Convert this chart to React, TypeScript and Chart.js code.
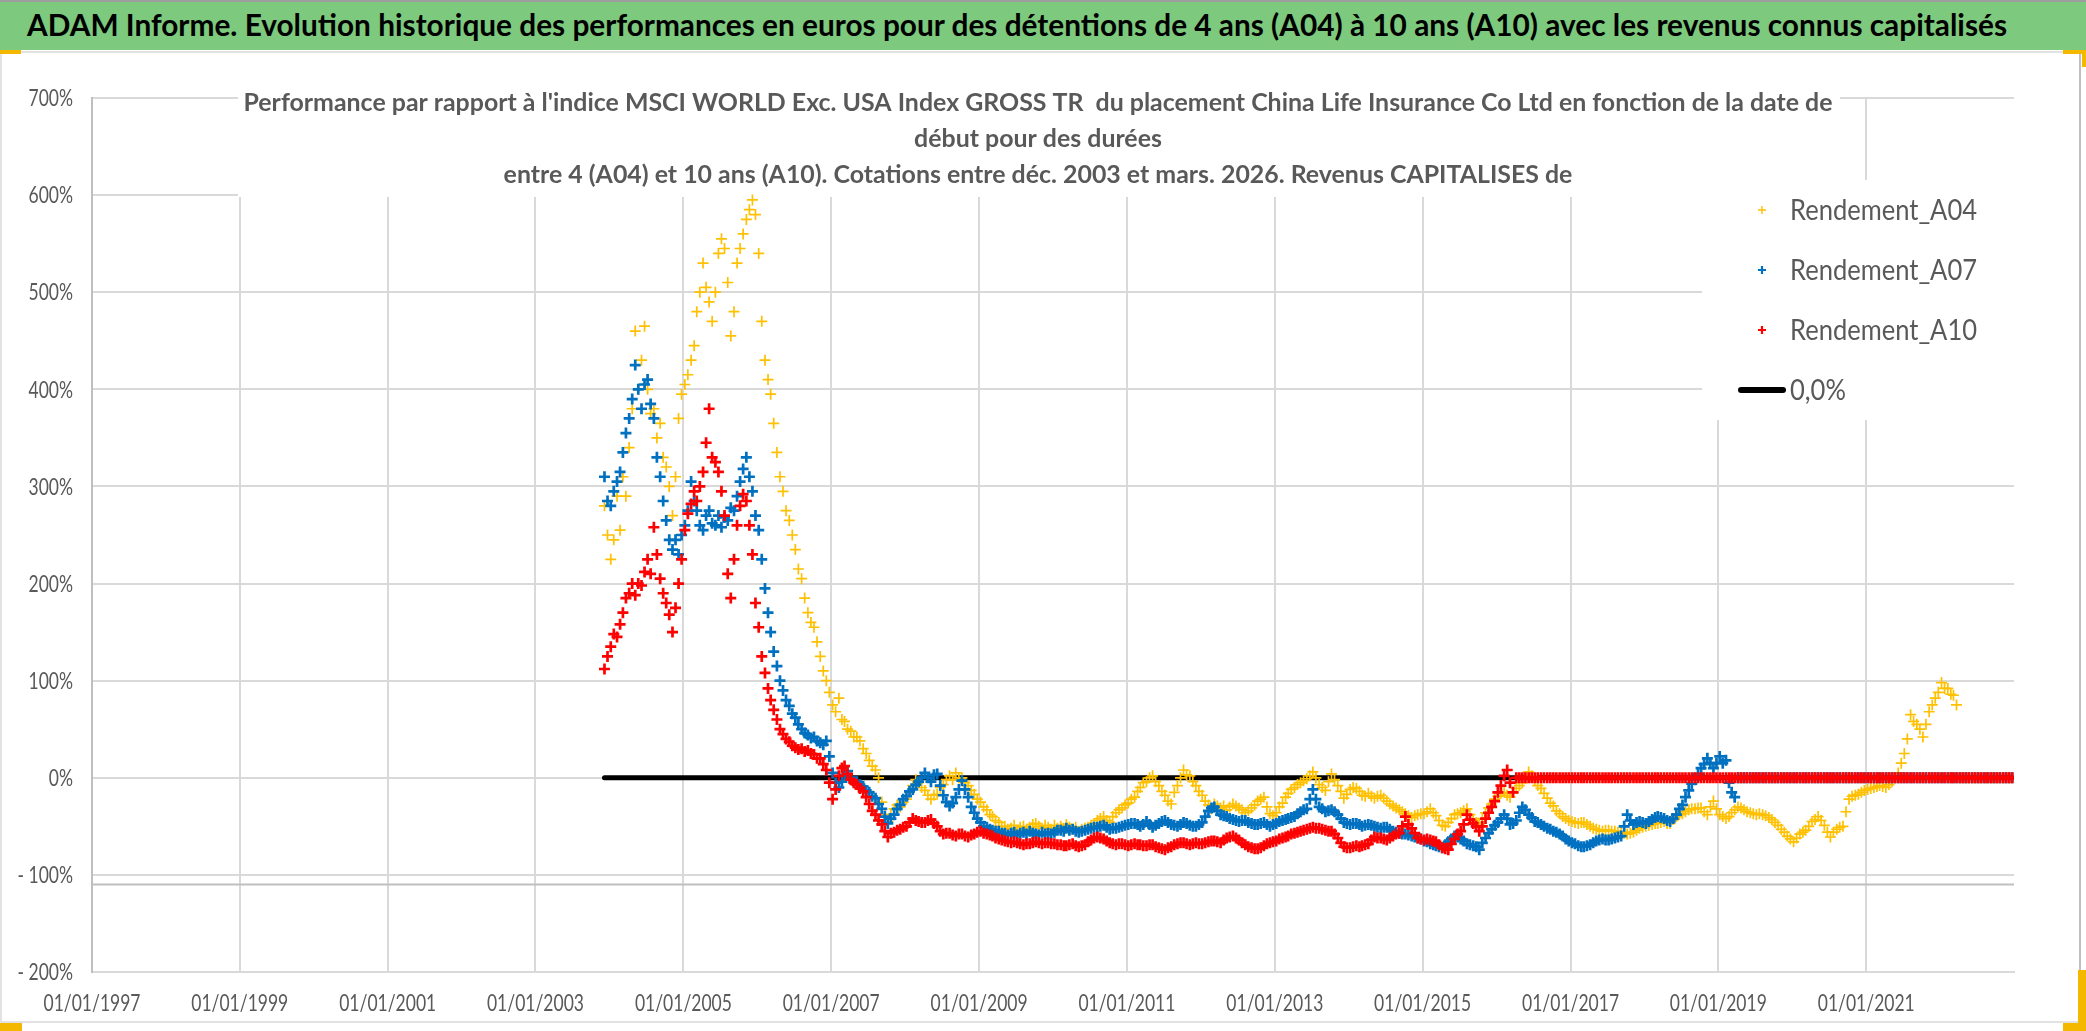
import React, { useEffect, useRef } from "react";
import { Chart, registerables } from "chart.js";

Chart.register(...registerables);

// ---------------- texts ----------------
const HEADER_TEXT =
  "ADAM Informe. Evolution historique des performances en euros pour des détentions de 4 ans (A04) à 10 ans (A10) avec les revenus connus capitalisés";
const SUBTITLE_LINES = [
  "Performance par rapport à l'indice MSCI WORLD Exc. USA Index GROSS TR  du placement China Life Insurance Co Ltd en fonction de la date de",
  "début pour des durées",
  "entre 4 (A04) et 10 ans (A10). Cotations entre déc. 2003 et mars. 2026. Revenus CAPITALISES de",
];
const SERIES_LABELS = ["Rendement_A04", "Rendement_A07", "Rendement_A10", "0,0%"];

// ---------------- axes ----------------
const X_TICK_YEARS = [1997, 1999, 2001, 2003, 2005, 2007, 2009, 2011, 2013, 2015, 2017, 2019, 2021];
const X_TICK_LABELS = [
  "01/01/1997", "01/01/1999", "01/01/2001", "01/01/2003", "01/01/2005", "01/01/2007", "01/01/2009",
  "01/01/2011", "01/01/2013", "01/01/2015", "01/01/2017", "01/01/2019", "01/01/2021",
];
const X_RANGE_YEARS = [1997, 2023];
const Y_TICK_VALUES = [700, 600, 500, 400, 300, 200, 100, 0, -100, -200];
const Y_TICK_LABELS = ["700%", "600%", "500%", "400%", "300%", "200%", "100%", "0%", "- 100%", "- 200%"];
const Y_RANGE = [-200, 700];
const ZERO_LEVEL = 0;
const AXIS_CROSS_LEVEL = -110;

// ---------------- data: two values per month (8th and 23rd), from Dec 2003, in % ----------------
const FIRST_MONTH = [2003, 11];
const HALF_MONTH_DAYS = [8, 23];

const A04 = [
  280, 250, 225, 245, 290, 255, 310, 290, 340, 380, 460, 400, 430, 465, 400, 375, 380, 350, 365, 330,
  320, 300, 270, 310, 370, 395, 405, 415, 430, 445, 480, 500, 530, 505, 490, 470, 500, 540, 555, 545,
  510, 455, 480, 530, 545, 560, 575, 585, 595, 580, 540, 470, 430, 410, 395, 365, 335, 310, 295, 275,
  265, 250, 235, 215, 205, 185, 170, 160, 155, 140, 125, 110, 100, 88, 75, 68, 82, 60, 58, 50,
  48, 42, 42, 38, 30, 25, 18, 12, 8, 0, -25, -38, -45, -38, -32, -28, -30, -25, -22, -15,
  -8, -2, -5, -10, -13, -18, -22, -18, -17, -10, -7, -2, 2, -2, 5, 0, 0, -5, -8, -13,
  -17, -22, -25, -30, -33, -38, -40, -44, -46, -50, -50, -53, -52, -49, -54, -51, -50, -53, -51, -48,
  -47, -50, -52, -49, -51, -53, -49, -52, -50, -52, -48, -51, -53, -51, -55, -53, -52, -51, -49, -47,
  -44, -42, -40, -44, -46, -40, -36, -33, -31, -28, -26, -22, -20, -14, -10, -5, -4, 0, 2, -4,
  -8, -14, -18, -24, -27, -15, -8, 0, 8, 3, 2, -4, -8, -14, -18, -24, -28, -32, -27, -29,
  -31, -29, -33, -30, -27, -29, -31, -33, -36, -34, -31, -28, -24, -22, -20, -30, -37, -39, -36, -30,
  -26, -20, -16, -12, -10, -7, -5, -3, -1, 2, 6, 0, -7, -10, -13, -4, 4, -2, -8, -14,
  -21, -17, -12, -10, -11, -14, -18, -19, -16, -19, -21, -19, -18, -21, -24, -27, -29, -31, -33, -35,
  -37, -39, -41, -39, -38, -37, -37, -35, -32, -36, -39, -44, -49, -50, -46, -42, -38, -37, -36, -34,
  -32, -38, -44, -46, -48, -42, -36, -31, -27, -22, -19, -16, -15, -18, -20, -15, -11, -8, -5, 0,
  6, 2, -3, -8, -11, -16, -21, -26, -29, -34, -37, -40, -42, -44, -45, -46, -47, -46, -46, -48,
  -50, -52, -53, -54, -55, -54, -54, -55, -55, -56, -56, -57, -58, -57, -56, -54, -52, -51, -50, -49,
  -48, -47, -47, -46, -45, -47, -47, -43, -40, -38, -37, -35, -33, -32, -32, -31, -31, -35, -38, -30,
  -24, -32, -38, -40, -42, -40, -36, -33, -30, -31, -33, -35, -36, -37, -38, -37, -38, -39, -41, -43,
  -46, -49, -53, -56, -60, -63, -66, -62, -58, -56, -54, -50, -45, -43, -40, -44, -49, -56, -61, -56,
  -53, -51, -50, -35, -22, -19, -18, -17, -15, -13, -12, -11, -10, -9, -8, -9, -10, -7, -4, 0,
  5, 15, 25, 40, 65, 58, 55, 50, 42, 55, 68, 75, 82, 88, 98, 92, 92, 86, 85, 75,
  0, 0, 0, 0, 0, 0, 0, 0, 0, 0, 0, 0, 0, 0, 0, 0, 0, 0,
];

const A07 = [
  310, 285, 280, 295, 305, 315, 335, 355, 370, 390, 425, 400, 380, 405, 410, 385, 370, 330, 310, 285,
  265, 245, 235, 245, 230, 250, 260, 275, 305, 285, 275, 260, 255, 270, 275, 262, 260, 270, 258, 268,
  265, 278, 275, 290, 305, 318, 330, 310, 295, 270, 255, 225, 195, 170, 150, 130, 115, 100, 90, 80,
  74, 66, 62, 55, 50, 46, 44, 41, 42, 38, 36, 34, 38, 22, 5, -5, -10, -4, 3, 7,
  0, -4, -4, -7, -9, -13, -15, -19, -21, -27, -32, -40, -47, -42, -38, -32, -28, -22, -19, -14,
  -12, -7, -4, 0, 5, 0, -4, 3, 4, -8, -18, -25, -29, -26, -20, -12, -3, -12, -20, -30,
  -36, -42, -46, -50, -51, -53, -54, -55, -55, -57, -57, -59, -57, -56, -59, -57, -56, -58, -55, -57,
  -58, -59, -56, -58, -57, -58, -56, -54, -54, -55, -52, -54, -53, -55, -56, -55, -54, -53, -52, -51,
  -51, -50, -49, -51, -53, -52, -52, -51, -50, -49, -48, -47, -47, -48, -50, -48, -45, -48, -51, -49,
  -47, -45, -44, -46, -48, -49, -50, -48, -46, -47, -49, -50, -50, -48, -46, -40, -34, -31, -30, -34,
  -38, -39, -40, -42, -43, -44, -45, -44, -44, -46, -47, -48, -48, -47, -46, -48, -50, -48, -47, -45,
  -44, -43, -42, -41, -40, -37, -35, -33, -32, -22, -12, -22, -30, -32, -35, -34, -33, -35, -38, -42,
  -46, -47, -48, -47, -47, -48, -50, -49, -48, -49, -50, -51, -52, -51, -51, -53, -55, -56, -57, -58,
  -58, -59, -60, -61, -62, -63, -65, -66, -68, -69, -70, -71, -72, -69, -66, -63, -60, -61, -63, -65,
  -68, -69, -70, -71, -74, -67, -62, -57, -53, -49, -46, -42, -38, -42, -48, -47, -44, -36, -30, -33,
  -38, -41, -45, -46, -48, -50, -52, -53, -55, -56, -58, -60, -63, -65, -67, -68, -70, -71, -71, -70,
  -69, -67, -65, -64, -63, -64, -64, -63, -62, -61, -60, -50, -38, -44, -48, -46, -45, -46, -47, -45,
  -43, -41, -40, -41, -42, -44, -45, -42, -38, -32, -28, -20, -13, -6, -2, 4, 10, 14, 20, 15,
  10, 15, 22, 15, 18, -5, -15, -20,
  0, 0, 0, 0, 0, 0, 0, 0, 0, 0, 0, 0, 0, 0, 0, 0, 0, 0, 0, 0,
  0, 0, 0, 0, 0, 0, 0, 0, 0, 0, 0, 0, 0, 0, 0, 0, 0, 0, 0, 0,
  0, 0, 0, 0, 0, 0, 0, 0, 0, 0, 0, 0, 0, 0, 0, 0, 0, 0, 0, 0,
  0, 0, 0, 0, 0, 0, 0, 0, 0, 0, 0, 0, 0, 0, 0, 0, 0, 0, 0, 0,
  0, 0, 0, 0, 0, 0, 0, 0, 0, 0,
];

const A10 = [
  112, 125, 135, 148, 145, 158, 170, 185, 190, 200, 188, 200, 198, 212, 225, 210, 258, 230, 205, 190,
  180, 168, 150, 175, 200, 225, 255, 272, 282, 295, 285, 300, 315, 345, 380, 330, 325, 315, 295, 270,
  210, 185, 225, 260, 280, 292, 285, 260, 230, 180, 155, 125, 108, 92, 80, 70, 60, 50, 45, 40,
  37, 33, 31, 29, 30, 27, 28, 25, 24, 20, 20, 14, 8, -5, -22, -12, 2, 10, 12, 4,
  -2, -5, -7, -11, -14, -20, -27, -34, -38, -44, -48, -55, -61, -57, -56, -54, -53, -51, -50, -46,
  -42, -44, -45, -46, -46, -44, -43, -47, -50, -55, -58, -57, -57, -59, -60, -58, -58, -60, -61, -59,
  -58, -56, -55, -57, -58, -59, -60, -62, -63, -64, -65, -66, -67, -66, -67, -68, -69, -68, -68, -67,
  -66, -67, -68, -67, -67, -68, -68, -69, -69, -70, -70, -69, -68, -70, -71, -70, -69, -66, -64, -62,
  -61, -62, -63, -65, -67, -68, -69, -68, -68, -69, -70, -69, -68, -69, -69, -70, -70, -69, -69, -71,
  -72, -73, -74, -72, -71, -69, -68, -67, -67, -68, -69, -68, -67, -68, -68, -67, -66, -65, -65, -66,
  -67, -64, -62, -61, -60, -62, -64, -67, -69, -71, -72, -73, -73, -72, -70, -68, -67, -66, -65, -63,
  -62, -61, -60, -58, -57, -56, -55, -54, -53, -52, -51, -52, -52, -53, -54, -55, -55, -58, -62, -67,
  -71, -72, -72, -71, -70, -71, -70, -69, -68, -64, -61, -62, -62, -63, -64, -62, -60, -58, -57, -50,
  -40, -48, -52, -57, -62, -63, -64, -63, -64, -65, -66, -69, -72, -73, -74, -68, -63, -58, -55, -48,
  -38, -43, -47, -50, -55, -50, -42, -36, -30, -24, -15, -8, 2, 8, -5, -15,
  0, 0, 0, 0, 0, 0, 0, 0, 0, 0, 0, 0, 0, 0, 0, 0, 0, 0, 0, 0,
  0, 0, 0, 0, 0, 0, 0, 0, 0, 0, 0, 0, 0, 0, 0, 0, 0, 0, 0, 0,
  0, 0, 0, 0, 0, 0, 0, 0, 0, 0, 0, 0, 0, 0, 0, 0, 0, 0, 0, 0,
  0, 0, 0, 0, 0, 0, 0, 0, 0, 0, 0, 0, 0, 0, 0, 0, 0, 0, 0, 0,
  0, 0, 0, 0, 0, 0, 0, 0, 0, 0, 0, 0, 0, 0, 0, 0, 0, 0, 0, 0,
  0, 0, 0, 0, 0, 0, 0, 0, 0, 0, 0, 0, 0, 0, 0, 0, 0, 0, 0, 0,
  0, 0, 0, 0, 0, 0, 0, 0, 0, 0, 0, 0, 0, 0, 0, 0, 0, 0, 0, 0,
  0, 0, 0, 0, 0, 0, 0, 0, 0, 0, 0, 0, 0, 0, 0, 0, 0, 0, 0, 0,
  0, 0,
];

const DATES = A04.map((_, k) =>
  Date.UTC(FIRST_MONTH[0], FIRST_MONTH[1] + Math.floor(k / 2), HALF_MONTH_DAYS[k % 2])
);

// ---------------- styles ----------------
const FONT = "Lato, 'Open Sans', 'DejaVu Sans', sans-serif";
const GREEN = "#7dc97d";
const TEXT_GREY = "#595959";
const GRID = "#d9d9d9";
const AXIS = "#bfbfbf";
const YELLOW = "#FFC000";
const BLUE = "#0070C0";
const RED = "#FF0000";
const COLORS = [YELLOW, BLUE, RED, "#000000"];
const MARK_WIDTHS = [1.7, 2.7, 2.7];
const MARK_RADIUS = 5.5;
const LEGEND_MARK_WIDTHS = [1.4, 2.2, 2.2];

const HEADER_WIDTH = 1980;
const CANVAS_W = 2086;
const CANVAS_H = 981;

function drawText(
  ctx: CanvasRenderingContext2D,
  text: string,
  x: number,
  y: number,
  size: number,
  weight: number,
  color: string,
  align: "left" | "center" | "right",
  sx: number
) {
  ctx.save();
  ctx.font = `${weight} ${size}px ${FONT}`;
  ctx.fillStyle = color;
  ctx.textBaseline = "alphabetic";
  ctx.textAlign = "left";
  const w = ctx.measureText(text).width * sx;
  const left = align === "center" ? x - w / 2 : align === "right" ? x - w : x;
  ctx.translate(left, y + size * 0.358);
  ctx.scale(sx, 1);
  ctx.fillText(text, 0, 0);
  ctx.restore();
}

function fitScale(ctx: CanvasRenderingContext2D, text: string, size: number, weight: number, target: number) {
  ctx.save();
  ctx.font = `${weight} ${size}px ${FONT}`;
  const w = ctx.measureText(text).width;
  ctx.restore();
  return target / w;
}

function drawCross(ctx: CanvasRenderingContext2D, x: number, y: number, r: number, color: string, lw: number) {
  ctx.save();
  ctx.strokeStyle = color;
  ctx.lineWidth = lw;
  ctx.beginPath();
  ctx.moveTo(x - r, y);
  ctx.lineTo(x + r, y);
  ctx.moveTo(x, y - r);
  ctx.lineTo(x, y + r);
  ctx.stroke();
  ctx.restore();
}

const decorPlugin = {
  id: "decor",
  beforeDatasetsDraw(chart: any) {
    const ctx: CanvasRenderingContext2D = chart.ctx;
    const { left, right } = chart.chartArea;
    ctx.save();
    ctx.fillStyle = "#ffffff";
    ctx.fillRect(238, 4, 1602, 143); // title box
    ctx.fillRect(1702, 130, 312, 240); // legend box
    const yc = chart.scales.y.getPixelForValue(AXIS_CROSS_LEVEL);
    ctx.strokeStyle = AXIS;
    ctx.lineWidth = 2;
    ctx.beginPath();
    ctx.moveTo(left, yc);
    ctx.lineTo(right, yc);
    ctx.stroke();
    ctx.restore();
  },
  afterDraw(chart: any) {
    const ctx: CanvasRenderingContext2D = chart.ctx;
    const xs = chart.scales.x;
    const ys = chart.scales.y;

    const tickSize = 23;
    const tickSx = fitScale(ctx, X_TICK_LABELS[0], tickSize, 400, 97);
    Y_TICK_VALUES.forEach((v, i) =>
      drawText(ctx, Y_TICK_LABELS[i], 73, ys.getPixelForValue(v), tickSize, 400, TEXT_GREY, "right", tickSx)
    );
    X_TICK_YEARS.forEach((yr, i) =>
      drawText(ctx, X_TICK_LABELS[i], xs.getPixelForValue(Date.UTC(yr, 0, 1)), 953, tickSize, 400, TEXT_GREY, "center", tickSx)
    );

    const subSize = 25;
    const subSx = fitScale(ctx, SUBTITLE_LINES[0], subSize, 700, 1589);
    SUBTITLE_LINES.forEach((t, i) => drawText(ctx, t, 1038, 52 + 36 * i, subSize, 700, TEXT_GREY, "center", subSx));

    const legSize = 28;
    const legSx = fitScale(ctx, SERIES_LABELS[0], legSize, 400, 187);
    const rows = [160, 220, 280, 340];
    for (let i = 0; i < 3; i++) {
      drawCross(ctx, 1762, rows[i], 4, COLORS[i], LEGEND_MARK_WIDTHS[i]);
      drawText(ctx, SERIES_LABELS[i], 1790, rows[i], legSize, 400, TEXT_GREY, "left", legSx);
    }
    ctx.save();
    ctx.strokeStyle = COLORS[3];
    ctx.lineWidth = 6;
    ctx.lineCap = "round";
    ctx.beginPath();
    ctx.moveTo(1741, rows[3]);
    ctx.lineTo(1783, rows[3]);
    ctx.stroke();
    ctx.restore();
    drawText(ctx, SERIES_LABELS[3], 1790, rows[3], legSize, 400, TEXT_GREY, "left", legSx);

    ctx.save();
    ctx.strokeStyle = "#d9d9d9";
    ctx.lineWidth = 1.5;
    ctx.beginPath();
    ctx.moveTo(1, 2);
    ctx.lineTo(2079, 2);
    ctx.moveTo(1, 2);
    ctx.lineTo(1, 972);
    ctx.lineTo(2079, 972);
    ctx.stroke();
    ctx.strokeStyle = "#c0c0c0";
    ctx.lineWidth = 2;
    ctx.beginPath();
    ctx.moveTo(2080, 2);
    ctx.lineTo(2080, 972);
    ctx.stroke();
    ctx.fillStyle = "#f5b800";
    ctx.fillRect(0, 0, 21, 4);
    ctx.fillRect(2063, 0, 23, 4);
    ctx.fillRect(2082, 0, 4, 17);
    ctx.fillRect(0, 973, 22, 8);
    ctx.fillRect(2078, 920, 8, 61);
    ctx.fillRect(2063, 973, 23, 8);
    ctx.restore();
  },
};

function pointSeries(values: number[]) {
  return values.map((v, i) => ({ x: DATES[i], y: v }));
}

export default function App() {
  const canvasRef = useRef<HTMLCanvasElement>(null);
  const headerRef = useRef<HTMLSpanElement>(null);

  useEffect(() => {
    document.body.style.margin = "0";
    const h = headerRef.current;
    if (h) {
      h.style.transform = "none";
      const w = h.getBoundingClientRect().width;
      if (w > 0) h.style.transform = `scaleX(${HEADER_WIDTH / w})`;
    }
    const canvas = canvasRef.current;
    if (!canvas) return;

    const scatterDs = (idx: number, values: number[], order: number) => ({
      type: "scatter" as const,
      label: SERIES_LABELS[idx],
      data: pointSeries(values),
      showLine: false,
      pointStyle: "cross",
      pointRadius: MARK_RADIUS,
      pointHoverRadius: MARK_RADIUS,
      pointBorderWidth: MARK_WIDTHS[idx],
      borderWidth: MARK_WIDTHS[idx],
      pointBorderColor: COLORS[idx],
      borderColor: COLORS[idx],
      pointBackgroundColor: COLORS[idx],
      backgroundColor: COLORS[idx],
      order,
    });

    const chart = new Chart(canvas, {
      type: "scatter",
      data: {
        datasets: [
          scatterDs(0, A04, 3),
          scatterDs(1, A07, 2),
          scatterDs(2, A10, 1),
          {
            type: "line",
            label: SERIES_LABELS[3],
            data: DATES.map((d) => ({ x: d, y: ZERO_LEVEL })),
            borderColor: COLORS[3],
            backgroundColor: COLORS[3],
            borderWidth: 5,
            borderCapStyle: "round",
            pointRadius: 0,
            pointHoverRadius: 0,
            fill: false,
            order: 4,
          } as any,
        ],
      },
      options: {
        animation: false,
        responsive: false,
        events: [],
        layout: { padding: { left: 92, right: 72, top: 48, bottom: 59 } },
        plugins: {
          legend: { display: false },
          title: { display: false },
          tooltip: { enabled: false },
        },
        scales: {
          x: {
            type: "linear",
            min: Date.UTC(X_RANGE_YEARS[0], 0, 1),
            max: Date.UTC(X_RANGE_YEARS[1], 0, 1),
            afterBuildTicks: (s: any) => {
              s.ticks = X_TICK_YEARS.map((yr) => ({ value: Date.UTC(yr, 0, 1) }));
            },
            afterFit: (s: any) => {
              s.height = 0;
            },
            ticks: { display: false },
            grid: { color: GRID, lineWidth: 2, drawTicks: false },
            border: { color: GRID, width: 2 },
          },
          y: {
            type: "linear",
            min: Y_RANGE[0],
            max: Y_RANGE[1],
            afterBuildTicks: (s: any) => {
              s.ticks = Y_TICK_VALUES.map((v) => ({ value: v }));
            },
            afterFit: (s: any) => {
              s.width = 0;
            },
            ticks: { display: false },
            grid: { color: GRID, lineWidth: 2, drawTicks: false },
            border: { color: AXIS, width: 2 },
          },
        },
      } as any,
      plugins: [decorPlugin],
    });
    return () => chart.destroy();
  }, []);

  return (
    <div style={{ position: "relative", width: 2086, height: 1031, background: "#ffffff", overflow: "hidden" }}>
      <div
        style={{
          position: "absolute",
          left: 0,
          top: 0,
          width: 2086,
          height: 48,
          borderTop: "2px solid #9e9e9e",
          background: GREEN,
        }}
      >
        <span
          ref={headerRef}
          style={{
            position: "absolute",
            left: 27,
            top: 0,
            fontFamily: FONT,
            fontWeight: 700,
            fontSize: 31,
            lineHeight: "44px",
            color: "#000000",
            whiteSpace: "nowrap",
            transformOrigin: "0 50%",
          }}
        >
          {HEADER_TEXT}
        </span>
      </div>
      <canvas
        ref={canvasRef}
        width={CANVAS_W}
        height={CANVAS_H}
        style={{ position: "absolute", left: 0, top: 50, width: CANVAS_W, height: CANVAS_H }}
      />
    </div>
  );
}
